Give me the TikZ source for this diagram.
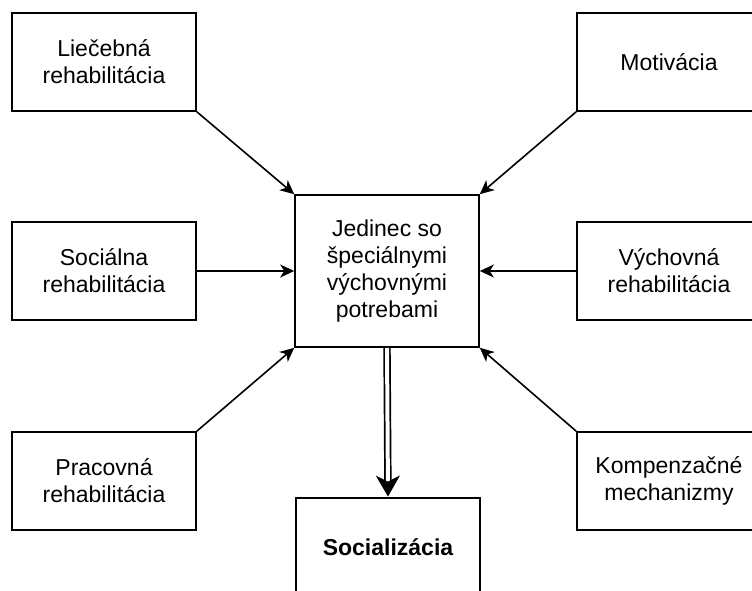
\documentclass[tikz,border=0pt]{standalone}
\usepackage{fontspec}
\setmainfont{Liberation Sans}
\usetikzlibrary{arrows.meta}

\begin{document}
\begin{tikzpicture}[x=1pt,y=-1pt,
  box/.style={rectangle,draw,line width=1.6pt,minimum width=184pt,minimum height=98pt,
    inner sep=0pt,align=center,font=\fontsize{23}{27}\selectfont},
  arr/.style={line width=1.6pt,-{Stealth[length=14pt,width=13pt,inset=4pt]}}]
\useasboundingbox (0,0) rectangle (752,591);
\clip (0,0) rectangle (752,591);
\coordinate (LT) at (104,62);
\coordinate (RT) at (669,62);
\coordinate (LM) at (104,271);
\coordinate (C) at (387,271);
\coordinate (RM) at (669,271);
\coordinate (LB) at (104,481);
\coordinate (RB) at (669,481);
\coordinate (B) at (388,547);
\node[box] (lie) at (LT){Liečebná\\rehabilitácia};
\node[box] (mot) at (RT){Motivácia};
\node[box] (soc) at (LM){Sociálna\\rehabilitácia};
\node[box,minimum height=152pt] (jed) at (C){Jedinec so\\špeciálnymi\\výchovnými\\potrebami};
\node[box] (vych) at (RM){Výchovná\\rehabilitácia};
\node[box] (prac) at (LB){Pracovná\\rehabilitácia};
\node[box] (komp) at (RB){Kompenzačné\\mechanizmy};
\node[box,line width=2.8pt,font=\fontsize{23}{27}\selectfont\bfseries] (socz) at (B){Socializácia};
\draw[arr] (lie.south east) -- (jed.north west);
\draw[arr] (mot.south west) -- (jed.north east);
\draw[arr] (soc.east) -- (jed.west);
\draw[arr] (vych.west) -- (jed.east);
\draw[arr] (prac.north east) -- (jed.south west);
\draw[arr] (komp.north west) -- (jed.south east);
\draw[line width=1.7pt,double,double distance=4pt,
  -{Stealth[length=21pt,width=24pt,inset=6pt]}] (jed.south) -- (socz.north);
\end{tikzpicture}
\end{document}
